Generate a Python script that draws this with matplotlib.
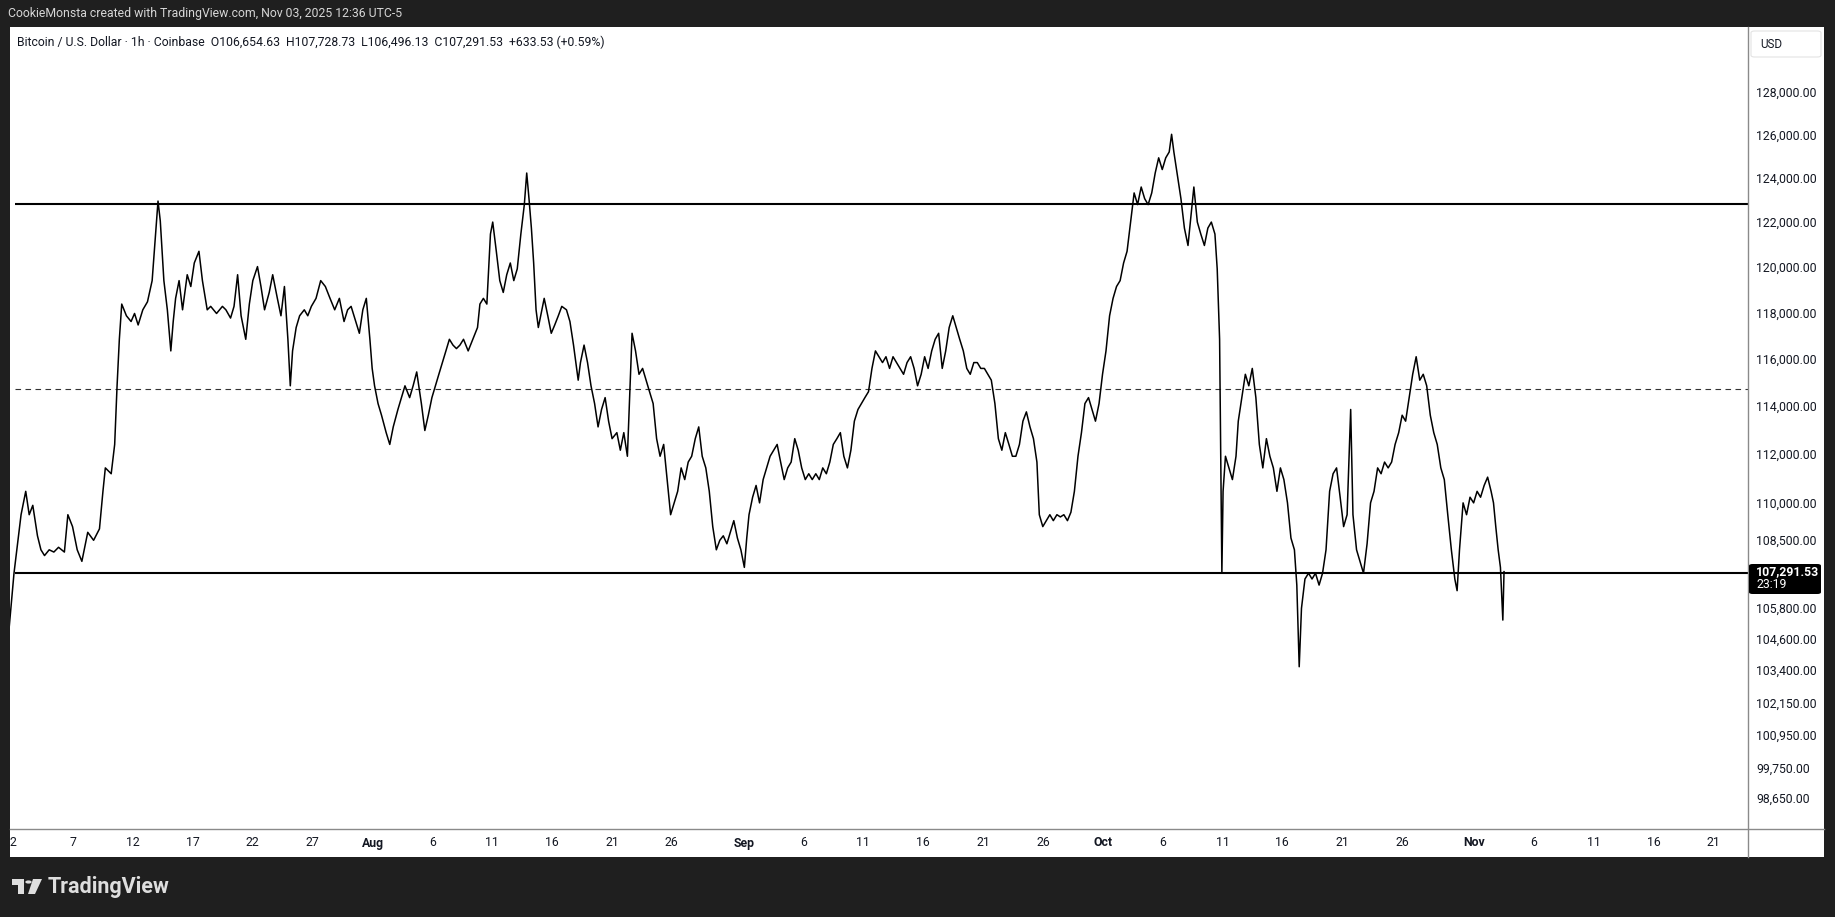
import matplotlib
matplotlib.use('Agg')
import matplotlib.pyplot as plt
import matplotlib.transforms as mtransforms
from matplotlib.patches import Rectangle, FancyBboxPatch, Circle, Polygon
from matplotlib.lines import Line2D
import pandas as pd

plt.rcParams['font.family'] = ['Roboto', 'DejaVu Sans']

# BTC/USD 1h closes (days since 2025-07-01, price)
t_days = [
    0.66, 1.05, 1.64, 2.03, 2.32, 2.62, 3.01, 3.30, 3.60, 3.99, 4.38, 4.77, 5.26, 5.55, 5.94, 6.33,
    6.72, 7.21, 7.70, 8.19, 8.48, 8.68, 9.17, 9.46, 9.66, 9.85, 10.05, 10.44, 10.83, 11.12, 11.42,
    11.81, 12.20, 12.59, 12.88, 13.08, 13.27, 13.57, 13.86, 14.15, 14.35, 14.55, 14.84, 15.13,
    15.52, 15.82, 16.11, 16.50, 16.79, 17.19, 17.48, 17.97, 18.46, 18.75, 19.14, 19.43, 19.73,
    20.02, 20.41, 20.71, 21.00, 21.39, 21.68, 21.98, 22.37, 22.66, 23.05, 23.35, 23.64, 23.93,
    24.13, 24.32, 24.62, 24.91, 25.30, 25.59, 25.89, 26.28, 26.67, 27.06, 27.45, 27.84, 28.23,
    28.62, 28.92, 29.21, 29.60, 29.90, 30.19, 30.48, 30.78, 30.97, 31.17, 31.46, 31.75, 32.14,
    32.44, 32.73, 33.12, 33.42, 33.71, 34.10, 34.39, 34.69, 35.08, 35.37, 35.66, 35.96, 36.25,
    36.54, 36.84, 37.13, 37.42, 37.72, 38.01, 38.30, 38.60, 38.99, 39.38, 39.77, 39.97, 40.26,
    40.55, 40.85, 41.04, 41.34, 41.63, 41.92, 42.21, 42.51, 42.80, 43.09, 43.39, 43.68, 43.88,
    44.07, 44.27, 44.46, 44.66, 44.85, 45.05, 45.34, 45.64, 45.93, 46.22, 46.52, 46.81, 47.20,
    47.49, 47.79, 47.98, 48.18, 48.37, 48.67, 48.96, 49.25, 49.55, 49.84, 50.13, 50.43, 50.72,
    51.01, 51.41, 51.70, 51.99, 52.29, 52.48, 52.68, 52.97, 53.26, 53.56, 53.85, 54.14, 54.44,
    54.73, 55.02, 55.32, 55.61, 55.90, 56.20, 56.49, 56.78, 57.08, 57.37, 57.66, 57.96, 58.25,
    58.54, 58.84, 59.13, 59.42, 59.72, 60.01, 60.30, 60.60, 60.89, 61.18, 61.48, 61.77, 62.06,
    62.26, 62.45, 62.75, 63.04, 63.33, 63.63, 63.92, 64.21, 64.51, 64.80, 65.09, 65.39, 65.68,
    65.97, 66.27, 66.56, 66.85, 67.15, 67.44, 67.73, 68.03, 68.32, 68.61, 68.91, 69.20, 69.49,
    69.79, 70.08, 70.37, 70.67, 70.96, 71.25, 71.55, 71.84, 72.13, 72.43, 72.72, 73.01, 73.31,
    73.60, 73.89, 74.19, 74.48, 74.77, 75.07, 75.36, 75.65, 75.95, 76.24, 76.53, 76.83, 77.12,
    77.41, 77.71, 78.00, 78.29, 78.59, 78.88, 79.17, 79.47, 79.76, 80.05, 80.35, 80.64, 80.93,
    81.23, 81.52, 81.81, 82.11, 82.40, 82.69, 82.99, 83.28, 83.57, 83.86, 84.16, 84.45, 84.74,
    85.04, 85.33, 85.62, 85.92, 86.21, 86.50, 86.70, 86.99, 87.29, 87.58, 87.87, 88.17, 88.46,
    88.75, 89.05, 89.34, 89.63, 89.93, 90.22, 90.51, 90.81, 91.10, 91.39, 91.69, 91.98, 92.27,
    92.57, 92.86, 93.15, 93.45, 93.74, 94.03, 94.33, 94.62, 94.91, 95.21, 95.50, 95.79, 96.09,
    96.38, 96.67, 96.97, 97.26, 97.55, 97.75, 97.94, 98.24, 98.53, 98.82, 99.12, 99.41, 99.61,
    99.90, 100.19, 100.49, 100.78, 101.07, 101.37, 101.56, 101.76, 101.86, 101.95, 102.05,
    102.25, 102.54, 102.83, 103.13, 103.32, 103.62, 103.91, 104.20, 104.49, 104.79, 105.08,
    105.37, 105.67, 105.96, 106.25, 106.55, 106.84, 107.13, 107.43, 107.72, 108.01, 108.21,
    108.41, 108.60, 108.89, 109.19, 109.48, 109.77, 110.07, 110.36, 110.65, 110.95, 111.24,
    111.53, 111.83, 112.12, 112.41, 112.71, 112.90, 113.20, 113.49, 113.78, 114.08, 114.37,
    114.66, 114.96, 115.25, 115.54, 115.84, 116.13, 116.42, 116.72, 117.01, 117.30, 117.60,
    117.89, 118.18, 118.48, 118.77, 119.06, 119.36, 119.65, 119.94, 120.24, 120.53, 120.82,
    121.12, 121.41, 121.60, 121.80, 122.10, 122.39, 122.68, 122.98, 123.27, 123.56, 123.86,
    124.15, 124.44, 124.64, 124.83, 125.03, 125.22, 125.42, 125.52,
]
price = [
    105170, 107230, 109570, 110520, 109570, 109950, 108720, 108160, 107930, 108160, 108070, 108260,
    108070, 109570, 109090, 108160, 107700, 108860, 108540, 109000, 110520, 111480, 111240, 112450,
    114910, 116900, 118430, 117920, 117670, 118020, 117520, 118180, 118530, 119460, 121530, 123020,
    122120, 119460, 118180, 116400, 117670, 118680, 119460, 118180, 119720, 119200, 120240, 120760,
    119460, 118180, 118330, 118020, 118330, 118180, 117820, 118330, 119720, 117920, 116900, 118430,
    119460, 120080, 119200, 118180, 118940, 119720, 118680, 117920, 119200, 116900, 114910, 116400,
    117410, 117920, 118180, 117920, 118330, 118680, 119460, 119200, 118680, 118180, 118680, 117670,
    118180, 118330, 117670, 117160, 118180, 118680, 116900, 115650, 114910, 114160, 113670, 112940,
    112450, 113180, 113910, 114410, 114910, 114410, 114910, 115500, 114160, 113030, 113670, 114410,
    114910, 115400, 115900, 116400, 116900, 116650, 116500, 116650, 116900, 116400, 116900, 117410,
    118430, 118680, 118430, 121530, 122070, 120760, 119460, 118940, 119720, 120240, 119460, 119980,
    121530, 122860, 124300, 123130, 121800, 120240, 118180, 117410, 117920, 118680, 117920, 117160,
    117520, 117920, 118330, 118180, 117670, 116650, 115900, 115150, 115900, 116650, 115900, 114910,
    114160, 113180, 113910, 114410, 113420, 112690, 112940, 112210, 112940, 111960, 114410, 117160,
    116400, 115400, 115650, 115150, 114660, 114160, 112690, 111960, 112450, 111000, 109570, 110050,
    110520, 111480, 111000, 111720, 111960, 112690, 113180, 111960, 111480, 110520, 109090, 108160,
    108540, 108720, 108400, 108860, 109330, 108630, 108160, 107460, 108630, 109570, 110280, 110760,
    110050, 111000, 111480, 111960, 112210, 112450, 111720, 111000, 111480, 111720, 112690, 112210,
    111480, 111000, 111240, 111000, 111240, 111000, 111480, 111240, 111720, 112450, 112690, 112940,
    111960, 111480, 112210, 113420, 113910, 114160, 114410, 114660, 115650, 116400, 116150, 115900,
    116150, 115650, 116150, 115900, 115650, 115400, 115900, 116150, 115650, 114910, 115400, 116150,
    115650, 116400, 116900, 117160, 115650, 116400, 117410, 117920, 117410, 116900, 116400, 115650,
    115400, 115900, 115900, 115650, 115650, 115400, 115150, 114160, 112690, 112210, 112940, 112450,
    111960, 111960, 112450, 113420, 113810, 113180, 112690, 111720, 109570, 109090, 109330, 109570,
    109330, 109570, 109480, 109570, 109330, 109670, 110520, 111960, 112940, 114160, 114410, 113910,
    113420, 114160, 115400, 116400, 117920, 118680, 119200, 119460, 120240, 120760, 122070, 123390,
    122860, 123660, 123130, 122860, 123390, 124300, 125000, 124460, 125000, 125270, 126090, 125270,
    124190, 123130, 121800, 121020, 122600, 123660, 122070, 121530, 121020, 121800, 122070, 121530,
    119980, 116900, 111480, 107230, 110520, 111960, 111480, 111000, 111960, 113420, 114410, 115400,
    114910, 115650, 114410, 112450, 111480, 112690, 111960, 111480, 110520, 111480, 111000, 110050,
    108630, 108160, 106760, 103590, 105850, 107000, 107230, 107000, 107230, 106760, 107230, 108160,
    110520, 111240, 111480, 110280, 109090, 109570, 113910, 109570, 108160, 107700, 107230, 108400,
    110050, 110520, 111480, 111240, 111720, 111480, 111720, 112450, 112940, 113670, 113420, 114410,
    115400, 116150, 115150, 115400, 114910, 113670, 112940, 112450, 111480, 111000, 109570, 108160,
    107000, 106540, 108160, 110050, 109570, 110280, 110050, 110520, 110280, 110760, 111100, 110520,
    110050, 109090, 108160, 107460, 105390, 107290,
]

# drawn levels
upper_level = 122900
lower_level = 107250
mid_level = 114780
levels_start_day = 1.13

last_price = 107291.53
countdown = "23:19"

price_ticks = [128000, 126000, 124000, 122000, 120000, 118000, 116000, 114000, 112000,
               110000, 108500, 105800, 104600, 103400, 102150, 100950, 99750, 98650]

x_tick_dates = ["2025-07-02", "2025-07-07", "2025-07-12", "2025-07-17", "2025-07-22", "2025-07-27",
                "2025-08-01", "2025-08-06", "2025-08-11", "2025-08-16", "2025-08-21", "2025-08-26",
                "2025-09-01", "2025-09-06", "2025-09-11", "2025-09-16", "2025-09-21", "2025-09-26",
                "2025-10-01", "2025-10-06", "2025-10-11", "2025-10-16", "2025-10-21", "2025-10-26",
                "2025-11-01", "2025-11-06", "2025-11-11", "2025-11-16", "2025-11-21"]
x_tick_labels = ["2", "7", "12", "17", "22", "27", "Aug", "6", "11", "16", "21", "26",
                 "Sep", "6", "11", "16", "21", "26", "Oct", "6", "11", "16", "21", "26",
                 "Nov", "6", "11", "16", "21"]

header_text = "CookieMonsta created with TradingView.com, Nov 03, 2025 12:36 UTC-5"
legend_text = ("Bitcoin / U.S. Dollar \u00b7 1h \u00b7 Coinbase  O106,654.63  H107,728.73  "
               "L106,496.13  C107,291.53  +633.53 (+0.59%)")

W, H = 1835, 917
bg = '#1f1f1f'
sep = '#8a8a8a'
ink = '#131722'


def fx(px):
    return px / W


def fy(py):
    return 1 - py / H


t0 = pd.Timestamp("2025-07-01")
dates = t0 + pd.to_timedelta(t_days, unit="D")

fig = plt.figure(figsize=(W / 100, H / 100), dpi=100, facecolor=bg)

# white chart panel (behind the axes)
fig.patches.append(Rectangle((fx(10), fy(857)), fx(1824) - fx(10), fy(27) - fy(857),
                             transform=fig.transFigure, facecolor='white', edgecolor='none', zorder=-5))

ax = fig.add_axes([fx(10), fy(829), fx(1748) - fx(10), fy(27) - fy(829)])
ax.set_facecolor('white')
ax.set_yscale('log')
ax.plot(dates, price, color='black', lw=1.1, zorder=3)

lv_start = t0 + pd.Timedelta(days=levels_start_day)
x_end = t0 + pd.Timedelta(days=145.9)
ax.hlines([upper_level, lower_level], lv_start, x_end, colors='black', lw=1.5, zorder=2)
ax.hlines(mid_level, lv_start, x_end, colors='#333333', lw=0.8, linestyles=(0, (5, 4)), zorder=2)

ax.set_xlim(t0 + pd.Timedelta(days=0.716), x_end)
ax.set_ylim(97567, 131185)
ax.yaxis.set_minor_locator(matplotlib.ticker.NullLocator())
ax.xaxis.set_minor_locator(matplotlib.ticker.NullLocator())
ax.set_xticks([])
ax.set_yticks([])
for s in ax.spines.values():
    s.set_visible(False)

# price scale labels
ytrans = mtransforms.blended_transform_factory(fig.transFigure, ax.transData)
for v in price_ticks:
    ax.text(fx(1756), v, f"{v:,.2f}", transform=ytrans, ha='left', va='center',
            fontsize=8.8, color=ink, clip_on=False)

# last price tag
fig.patches.append(FancyBboxPatch((fx(1749), fy(594)), fx(1821) - fx(1749), fy(564) - fy(594),
                                  boxstyle="round,pad=0,rounding_size=0.002",
                                  transform=fig.transFigure, facecolor='black', edgecolor='none', zorder=5))
fig.text(fx(1756), fy(572), f"{last_price:,.2f}", color='white', fontsize=8.8,
         fontweight='bold', ha='left', va='center', zorder=6)
fig.text(fx(1756), fy(585), countdown, color='white', fontsize=8.8, ha='left', va='center', zorder=6)

# USD box
fig.patches.append(FancyBboxPatch((fx(1751), fy(57)), fx(1821) - fx(1751), fy(31) - fy(57),
                                  boxstyle="round,pad=0,rounding_size=0.002",
                                  transform=fig.transFigure, facecolor='white',
                                  edgecolor='#e3e3e3', lw=0.8, zorder=5))
fig.text(fx(1760), fy(44), "USD", color=ink, fontsize=8.4, ha='left', va='center', zorder=6)

# time scale
tax = fig.add_axes([fx(10), fy(857), fx(1748) - fx(10), fy(829) - fy(857)], sharex=ax)
tax.axis('off')
xtrans = mtransforms.blended_transform_factory(tax.transData, tax.transAxes)
for d, lab in zip(x_tick_dates, x_tick_labels):
    bold = not lab.isdigit()
    tax.text(pd.Timestamp(d), 0.5, lab, transform=xtrans, ha='center', va='center',
             fontsize=8.8, color=ink, fontweight='bold' if bold else 'normal', clip_on=True)

# separators
fig.add_artist(Line2D([fx(1748), fx(1748)], [fy(27), fy(857)], color=sep, lw=1.0))
fig.add_artist(Line2D([fx(10), fx(1824)], [fy(829), fy(829)], color=sep, lw=1.0))

# header and legend
fig.text(fx(8), fy(14), header_text, color='#d6d6d6', fontsize=8.8, ha='left', va='center')
fig.text(fx(17), fy(42), legend_text, color=ink, fontsize=8.8, ha='left', va='center')

# TradingView logo
logo_col = '#dedede'
fig.patches.append(Polygon([(fx(12), fy(879)), (fx(24), fy(879)), (fx(24), fy(894)),
                            (fx(18), fy(894)), (fx(18), fy(885)), (fx(12), fy(885))],
                           closed=True, transform=fig.transFigure, facecolor=logo_col, edgecolor='none'))
fig.patches.append(Circle((fx(28.5), fy(882)), 3.2 / W, transform=fig.transFigure,
                          facecolor=logo_col, edgecolor='none'))
fig.patches.append(Polygon([(fx(33), fy(879)), (fx(42), fy(879)), (fx(35), fy(894)), (fx(28), fy(894))],
                           closed=True, transform=fig.transFigure, facecolor=logo_col, edgecolor='none'))
fig.text(fx(48), fy(887), "TradingView", color=logo_col, fontsize=15.5, fontweight='bold',
         ha='left', va='center')

fig.savefig("out.png", dpi=100, facecolor=bg)
